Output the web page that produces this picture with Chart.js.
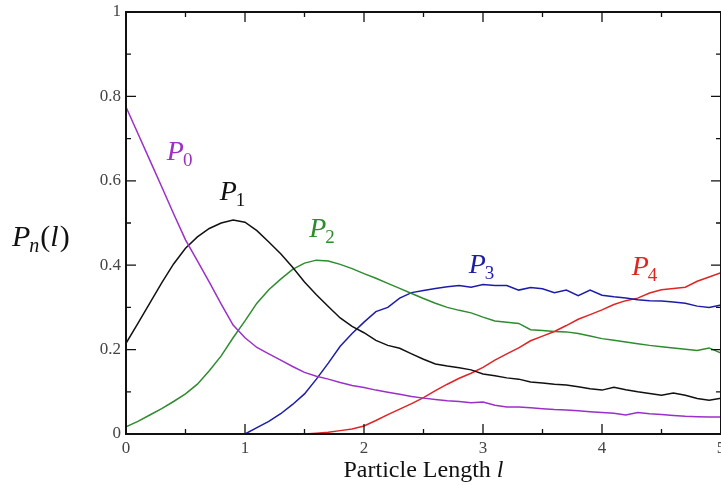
<!DOCTYPE html>
<html><head><meta charset="utf-8">
<script src="https://cdn.jsdelivr.net/npm/chart.js@4/dist/chart.umd.min.js"></script>
<style>html,body{margin:0;padding:0;background:#fff}#wrap{width:721px;height:485px}</style>
</head><body><div id="wrap"><canvas id="c" width="721" height="485"></canvas></div>
<script>
const lengths = [0,0.1,0.2,0.3,0.4,0.5,0.6,0.7,0.8,0.9,1.0,1.1,1.2,1.3,1.4,1.5,1.6,1.7,1.8,1.9,2.0,2.1,2.2,2.3,2.4,2.5,2.6,2.7,2.8,2.9,3.0,3.1,3.2,3.3,3.4,3.5,3.6,3.7,3.8,3.9,4.0,4.1,4.2,4.3,4.4,4.5,4.6,4.7,4.8,4.9,5.0];
const P0 = [0.775,0.712,0.649,0.586,0.522,0.46,0.41,0.36,0.308,0.258,0.228,0.205,0.19,0.175,0.16,0.146,0.137,0.13,0.122,0.115,0.11,0.104,0.099,0.094,0.089,0.085,0.082,0.079,0.077,0.074,0.076,0.068,0.064,0.064,0.062,0.06,0.058,0.057,0.055,0.053,0.051,0.049,0.045,0.051,0.048,0.046,0.044,0.042,0.041,0.04,0.04];
const P1 = [0.215,0.262,0.31,0.358,0.403,0.44,0.467,0.487,0.5,0.507,0.502,0.482,0.455,0.427,0.395,0.36,0.33,0.302,0.275,0.255,0.24,0.222,0.21,0.203,0.19,0.177,0.166,0.161,0.157,0.152,0.142,0.138,0.133,0.13,0.123,0.121,0.118,0.116,0.112,0.107,0.104,0.111,0.105,0.1,0.096,0.092,0.097,0.092,0.084,0.08,0.085];
const P2 = [0.017,0.03,0.045,0.06,0.077,0.095,0.118,0.15,0.185,0.228,0.268,0.31,0.342,0.367,0.39,0.405,0.412,0.41,0.402,0.392,0.38,0.369,0.357,0.345,0.333,0.321,0.31,0.3,0.293,0.287,0.277,0.268,0.265,0.262,0.247,0.245,0.243,0.242,0.238,0.232,0.226,0.222,0.218,0.214,0.21,0.207,0.204,0.201,0.198,0.204,0.192];
const P3 = [null,null,null,null,null,null,null,null,null,null,0,0.015,0.03,0.048,0.07,0.095,0.13,0.168,0.208,0.238,0.265,0.29,0.3,0.322,0.335,0.34,0.345,0.349,0.352,0.348,0.354,0.352,0.352,0.341,0.347,0.344,0.335,0.341,0.328,0.341,0.329,0.325,0.322,0.318,0.316,0.315,0.313,0.31,0.303,0.3,0.306];
const P4 = [null,null,null,null,null,null,null,null,null,null,null,null,null,null,null,0,0.002,0.004,0.008,0.012,0.019,0.032,0.046,0.059,0.072,0.086,0.103,0.118,0.132,0.144,0.158,0.175,0.19,0.204,0.221,0.232,0.243,0.257,0.272,0.283,0.294,0.307,0.316,0.322,0.334,0.342,0.345,0.348,0.362,0.372,0.382];
const seriesNames = ['0','1','2','3','4'];
const xTickLabels = [0,1,2,3,4,5];
const yTickLabels = [0,0.2,0.4,0.6,0.8,1];

const colors = ['#9b30c8','#111111','#2e8b2e','#1c1ca8','#e02424'];
const labelPos = [[0.343,0.649],[0.787,0.555],[1.54,0.467],[2.88,0.382],[4.25,0.377]];
const allSeries = [P0,P1,P2,P3,P4];
const SERIF = "'Liberation Serif','Times New Roman',serif";

const datasets = allSeries.map((s,i)=>({
  label:'P'+seriesNames[i],
  data: lengths.map((x,j)=>({x:x,y:s[j]})),
  borderColor: colors[i], borderWidth:1.5, pointRadius:0, tension:0, fill:false, spanGaps:false
}));

const framePlugin = {
  id:'frame',
  afterDatasetsDraw(chart){
    const {ctx, chartArea:a, scales:{x,y}} = chart;
    ctx.save();
    ctx.strokeStyle='#111'; ctx.lineWidth=2;
    ctx.strokeRect(a.left,a.top,a.right-a.left,a.bottom-a.top);
    ctx.lineWidth=1.3;
    for(let k=0;k<=10;k++){
      const v=k*0.5, px=x.getPixelForValue(v), len=(k%2===0)?10:5;
      ctx.beginPath();
      ctx.moveTo(px,a.bottom); ctx.lineTo(px,a.bottom-len);
      ctx.moveTo(px,a.top); ctx.lineTo(px,a.top+len);
      ctx.stroke();
    }
    for(let k=0;k<=10;k++){
      const v=k*0.1, py=y.getPixelForValue(v), len=(k%2===0)?10:5;
      ctx.beginPath();
      ctx.moveTo(a.left,py); ctx.lineTo(a.left+len,py);
      ctx.moveTo(a.right,py); ctx.lineTo(a.right-len,py);
      ctx.stroke();
    }
    ctx.textBaseline='alphabetic'; ctx.textAlign='left';
    labelPos.forEach((p,i)=>{
      const px=x.getPixelForValue(p[0]), py=y.getPixelForValue(p[1]);
      ctx.fillStyle=colors[i];
      ctx.font="italic 28px "+SERIF;
      ctx.fillText('P',px,py);
      const w=ctx.measureText('P').width;
      ctx.font="19px "+SERIF;
      ctx.fillText(seriesNames[i],px+w-1,py+6);
    });
    ctx.fillStyle='#111';
    ctx.font="italic 30px "+SERIF;
    let tx=12, ty=246;
    ctx.fillText('P',tx,ty); tx+=ctx.measureText('P').width-1;
    ctx.font="italic 20px "+SERIF;
    ctx.fillText('n',tx,ty+6); tx+=ctx.measureText('n').width+1;
    ctx.font="30px "+SERIF; ctx.fillText('(',tx,ty); tx+=ctx.measureText('(').width;
    ctx.font="italic 30px "+SERIF; ctx.fillText('l',tx,ty); tx+=ctx.measureText('l').width+1;
    ctx.font="30px "+SERIF; ctx.fillText(')',tx,ty);

    ctx.font="24px "+SERIF;
    const t1='Particle Length ';
    const w1=ctx.measureText(t1).width;
    ctx.font="italic 24px "+SERIF;
    const w2=ctx.measureText('l').width;
    const cx=(a.left+a.right)/2;
    let sx=cx-(w1+w2)/2;
    ctx.font="24px "+SERIF; ctx.fillText(t1,sx,477);
    ctx.font="italic 24px "+SERIF; ctx.fillText('l',sx+w1,477);
    ctx.restore();
  }
};

new Chart(document.getElementById('c'),{
  type:'line',
  data:{datasets},
  options:{
    responsive:false, animation:false, devicePixelRatio:1,
    layout:{padding:{top:12,right:-2,left:0,bottom:0}},
    plugins:{legend:{display:false},tooltip:{enabled:false}},
    scales:{
      x:{type:'linear',min:0,max:5,
        afterFit(s){s.height=51; s.paddingLeft=0; s.paddingRight=0;},
        afterBuildTicks(s){s.ticks=xTickLabels.map(v=>({value:v}));},
        grid:{display:false,drawTicks:false},border:{display:false},
        ticks:{padding:4,color:'#444',font:{family:SERIF,size:17},maxRotation:0,autoSkip:false,
          callback:v=>String(+(+v).toFixed(1))}},
      y:{min:0,max:1,
        afterFit(s){s.width=126; s.paddingTop=0; s.paddingBottom=0;},
        afterBuildTicks(s){s.ticks=yTickLabels.map(v=>({value:v}));},
        grid:{display:false,drawTicks:false},border:{display:false},
        ticks:{padding:5,color:'#444',font:{family:SERIF,size:17},autoSkip:false,
          callback:v=>String(+(+v).toFixed(1))}}
    }
  },
  plugins:[framePlugin]
});
</script></body></html>
